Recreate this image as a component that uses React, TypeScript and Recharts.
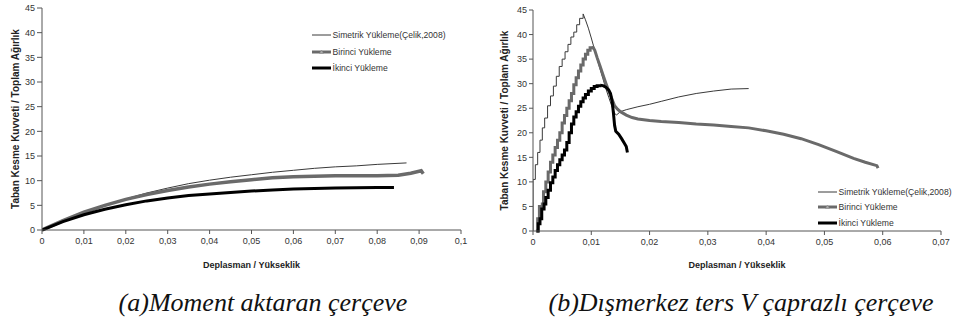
import React from 'react';
import { LineChart, Line, XAxis, YAxis, Label } from 'recharts';

type P = [number, number];

const xTicksA = [0, 0.01, 0.02, 0.03, 0.04, 0.05, 0.06, 0.07, 0.08, 0.09, 0.1];
const xTicksB = [0, 0.01, 0.02, 0.03, 0.04, 0.05, 0.06, 0.07];
const yTicks = [0, 5, 10, 15, 20, 25, 30, 35, 40, 45];

const seriesNames = ['Simetrik Yükleme(Çelik,2008)', 'Birinci Yükleme', 'İkinci Yükleme'];
const yTitle = 'Taban Kesme Kuvveti / Toplam Ağırlık';
const xTitle = 'Deplasman / Yükseklik';
const captionA = '(a)Moment aktaran çerçeve';
const captionB = '(b)Dışmerkez ters V çaprazlı çerçeve';

// (a) Moment aktaran çerçeve
const simetrikA: P[] = [[0,0],[0.005,1.9],[0.01,3.6],[0.015,5.0],[0.02,6.3],[0.025,7.5],[0.03,8.5],[0.035,9.4],[0.04,10.1],[0.045,10.7],[0.05,11.2],[0.055,11.7],[0.06,12.1],[0.065,12.5],[0.07,12.8],[0.075,13.0],[0.08,13.3],[0.087,13.6]];
const birinciA: P[] = [[0,0],[0.005,1.9],[0.01,3.6],[0.015,5.0],[0.02,6.2],[0.025,7.2],[0.03,8.0],[0.035,8.7],[0.04,9.3],[0.045,9.8],[0.05,10.2],[0.055,10.6],[0.06,10.8],[0.065,10.9],[0.07,11.0],[0.075,11.0],[0.08,11.0],[0.085,11.1],[0.088,11.5],[0.0905,12.0],[0.091,11.4]];
const ikinciA: P[] = [[0,0],[0.005,1.7],[0.01,3.1],[0.015,4.2],[0.02,5.1],[0.025,5.9],[0.03,6.5],[0.035,7.0],[0.04,7.3],[0.045,7.6],[0.05,7.9],[0.055,8.1],[0.06,8.3],[0.065,8.4],[0.07,8.5],[0.075,8.55],[0.08,8.6],[0.084,8.6]];

// (b) Dışmerkez ters V çaprazlı çerçeve — rising (stepped) and descending parts
const simetrikBRise: P[] = [[0,0],[0,10.5],[0.0004,13.5],[0.0008,16],[0.0012,18.5],[0.0016,21],[0.002,23],[0.0025,25.5],[0.003,27.5],[0.0035,29.5],[0.004,31.5],[0.0045,33.5],[0.005,35],[0.0055,36.5],[0.006,38],[0.0065,39.5],[0.007,40.5],[0.0075,42],[0.008,43.3],[0.0086,44.2]];
const simetrikBTail: P[] = [[0.0086,44.2],[0.009,43],[0.0095,41.3],[0.01,39.3],[0.0105,37.2],[0.011,35],[0.0115,33],[0.012,31],[0.0125,29],[0.013,27.2],[0.0135,25.5],[0.014,24],[0.0143,23.6],[0.015,24.3],[0.016,24.7],[0.018,25.3],[0.02,25.8],[0.022,26.4],[0.025,27.3],[0.028,28.0],[0.031,28.5],[0.034,28.9],[0.037,29.0]];
const birinciBRise: P[] = [[0.0005,0],[0.0008,2.5],[0.0011,5],[0.0016,5.5],[0.0018,8],[0.0022,10],[0.0026,12],[0.003,14],[0.0034,15.5],[0.0038,17],[0.0042,18.5],[0.0046,20],[0.005,22],[0.0054,23.5],[0.0058,25],[0.0062,26.5],[0.0066,28],[0.007,29.8],[0.0074,31.2],[0.0078,32.6],[0.0082,33.8],[0.0086,35],[0.009,36],[0.0094,36.8],[0.0098,37.3],[0.0102,37.6]];
const birinciBTail: P[] = [[0.0102,37.6],[0.0106,36.8],[0.011,35.3],[0.0115,33.6],[0.012,31.8],[0.0125,30.1],[0.013,28.5],[0.0135,27],[0.014,25.5],[0.0145,24.8],[0.015,24.3],[0.016,23.6],[0.017,23.1],[0.018,22.8],[0.02,22.5],[0.022,22.3],[0.025,22.1],[0.028,21.8],[0.031,21.6],[0.034,21.3],[0.037,21.0],[0.04,20.4],[0.043,19.7],[0.046,18.8],[0.049,17.6],[0.052,16.2],[0.055,14.8],[0.057,14.0],[0.059,13.3],[0.0592,12.8]];
const ikinciBRise: P[] = [[0.0006,0],[0.0009,1.5],[0.0012,2.5],[0.0015,4.5],[0.0019,5.5],[0.0022,6.8],[0.0026,8.3],[0.003,9.8],[0.0034,11],[0.0038,12.3],[0.0042,13.5],[0.0046,14.5],[0.005,15.5],[0.0054,16.5],[0.0058,18],[0.0062,20],[0.0066,21.8],[0.007,23.2],[0.0074,24.3],[0.0078,25.4],[0.0082,26.3],[0.0086,27.1],[0.009,27.8],[0.0095,28.5],[0.01,29],[0.0105,29.4],[0.011,29.6],[0.0115,29.7]];
const ikinciBTail: P[] = [[0.0115,29.7],[0.012,29.6],[0.0125,29.3],[0.013,28.7],[0.0133,28],[0.0136,26.2],[0.0138,24],[0.014,21.5],[0.0142,20.3],[0.0147,19.7],[0.0152,18.8],[0.0157,17.8],[0.016,17.2],[0.0162,16]];

const pts = (a: P[]) => a.map(([x, y]) => ({ x, y }));
const fmt = (v: number) => String(v).replace('.', ',');

const FONT = '"Liberation Sans", Arial, sans-serif';
const AXIS = '#555';
const C_SIM = '#3a3a3a';
const C_BIR = '#6a6a6a';
const C_IKI = '#000';

const tickStyle = { fontSize: 9, fill: '#333', fontFamily: FONT };

const yTitleContent = (cx: number) => (props: any) => {
  const vb = props.viewBox || { y: 0, height: 0 };
  const cy = vb.y + vb.height / 2;
  return (
    <text x={cx} y={cy} transform={`rotate(-90 ${cx} ${cy})`} textAnchor="middle" dominantBaseline="central"
      fontSize={10} fontWeight="bold" fontFamily={FONT} fill="#222">{yTitle}</text>
  );
};
const xTitleContent = (baseline: number) => (props: any) => {
  const vb = props.viewBox || { x: 0, width: 0 };
  const cx = vb.x + vb.width / 2;
  return (
    <text x={cx} y={baseline} textAnchor="middle" fontSize={9} fontWeight="bold" fontFamily={FONT} fill="#222">{xTitle}</text>
  );
};

const LegendBox: React.FC<{ left: number; top: number; rows: number[] }> = ({ left, top, rows }) => (
  <svg style={{ position: 'absolute', left, top, overflow: 'visible' }} width={136} height={50}>
    {seriesNames.map((n, i) => {
      const y = rows[i];
      return (
        <g key={n}>
          <line x1={0} x2={19} y1={y} y2={y} stroke={i === 0 ? C_SIM : i === 1 ? C_BIR : C_IKI} strokeWidth={i === 0 ? 1 : 3} />
          {i === 1 && <polygon points={`${9.5},${y - 2} ${7.5},${y + 1.5} ${11.5},${y + 1.5}`} fill="#aaa" stroke="#888" strokeWidth={0.5} />}
          <text x={20.5} y={y + 3.1} fontSize={8.6} fontFamily={FONT} fill="#333">{n}</text>
        </g>
      );
    })}
  </svg>
);

export default function App() {
  return (
    <div style={{ position: 'absolute', left: 0, top: 0, width: 958, height: 325, background: '#fff', overflow: 'hidden' }}>
      <div style={{ position: 'absolute', left: 0, top: 0 }}>
        <LineChart width={480} height={275} margin={{ top: 8, right: 19, left: 12, bottom: 25 }}>
          <XAxis type="number" dataKey="x" domain={[0, 0.1]} ticks={xTicksA} tickFormatter={fmt} allowDataOverflow
            height={20} tick={tickStyle} tickSize={4} tickMargin={4} stroke={AXIS} interval={0}>
            <Label content={xTitleContent(268)} />
          </XAxis>
          <YAxis type="number" domain={[0, 45]} ticks={yTicks} width={30} tick={tickStyle} tickSize={5} tickMargin={2} stroke={AXIS} interval={0}>
            <Label content={yTitleContent(15)} />
          </YAxis>
          <Line data={pts(simetrikA)} dataKey="y" type="linear" stroke={C_SIM} strokeWidth={1} dot={false} isAnimationActive={false} />
          <Line data={pts(birinciA)} dataKey="y" type="linear" stroke={C_BIR} strokeWidth={3.5} dot={false} isAnimationActive={false} />
          <Line data={pts(ikinciA)} dataKey="y" type="linear" stroke={C_IKI} strokeWidth={3} dot={false} isAnimationActive={false} />
        </LineChart>
      </div>
      <div style={{ position: 'absolute', left: 480, top: 0 }}>
        <LineChart width={478} height={275} margin={{ top: 10, right: 17, left: 23, bottom: 24 }}>
          <XAxis type="number" dataKey="x" domain={[0, 0.07]} ticks={xTicksB} tickFormatter={fmt} allowDataOverflow
            height={20} tick={tickStyle} tickSize={4} tickMargin={4} stroke={AXIS} interval={0}>
            <Label content={xTitleContent(268)} />
          </XAxis>
          <YAxis type="number" domain={[0, 45]} ticks={yTicks} width={30} tick={tickStyle} tickSize={4} tickMargin={2} stroke={AXIS} interval={0}>
            <Label content={yTitleContent(24)} />
          </YAxis>
          <Line data={pts(simetrikBRise)} dataKey="y" type="stepAfter" stroke={C_SIM} strokeWidth={1} dot={false} isAnimationActive={false} />
          <Line data={pts(simetrikBTail)} dataKey="y" type="linear" stroke={C_SIM} strokeWidth={1} dot={false} isAnimationActive={false} />
          <Line data={pts(birinciBRise)} dataKey="y" type="stepAfter" stroke={C_BIR} strokeWidth={3} dot={false} isAnimationActive={false} />
          <Line data={pts(birinciBTail)} dataKey="y" type="linear" stroke={C_BIR} strokeWidth={3} dot={false} isAnimationActive={false} />
          <Line data={pts(ikinciBRise)} dataKey="y" type="stepAfter" stroke={C_IKI} strokeWidth={3} dot={false} isAnimationActive={false} />
          <Line data={pts(ikinciBTail)} dataKey="y" type="linear" stroke={C_IKI} strokeWidth={3} dot={false} isAnimationActive={false} />
        </LineChart>
      </div>
      <LegendBox left={312} top={20} rows={[15, 32, 48]} />
      <LegendBox left={818} top={180} rows={[12, 27, 43]} />
      <svg style={{ position: 'absolute', left: 0, top: 280 }} width={958} height={45}>
        <text x={263} y={31} textAnchor="middle" fontSize={26} fontStyle="italic" fontFamily='"Liberation Serif", "Times New Roman", serif' fill="#111">{captionA}</text>
        <text x={741} y={31} textAnchor="middle" fontSize={26} fontStyle="italic" fontFamily='"Liberation Serif", "Times New Roman", serif' fill="#111">{captionB}</text>
      </svg>
    </div>
  );
}
